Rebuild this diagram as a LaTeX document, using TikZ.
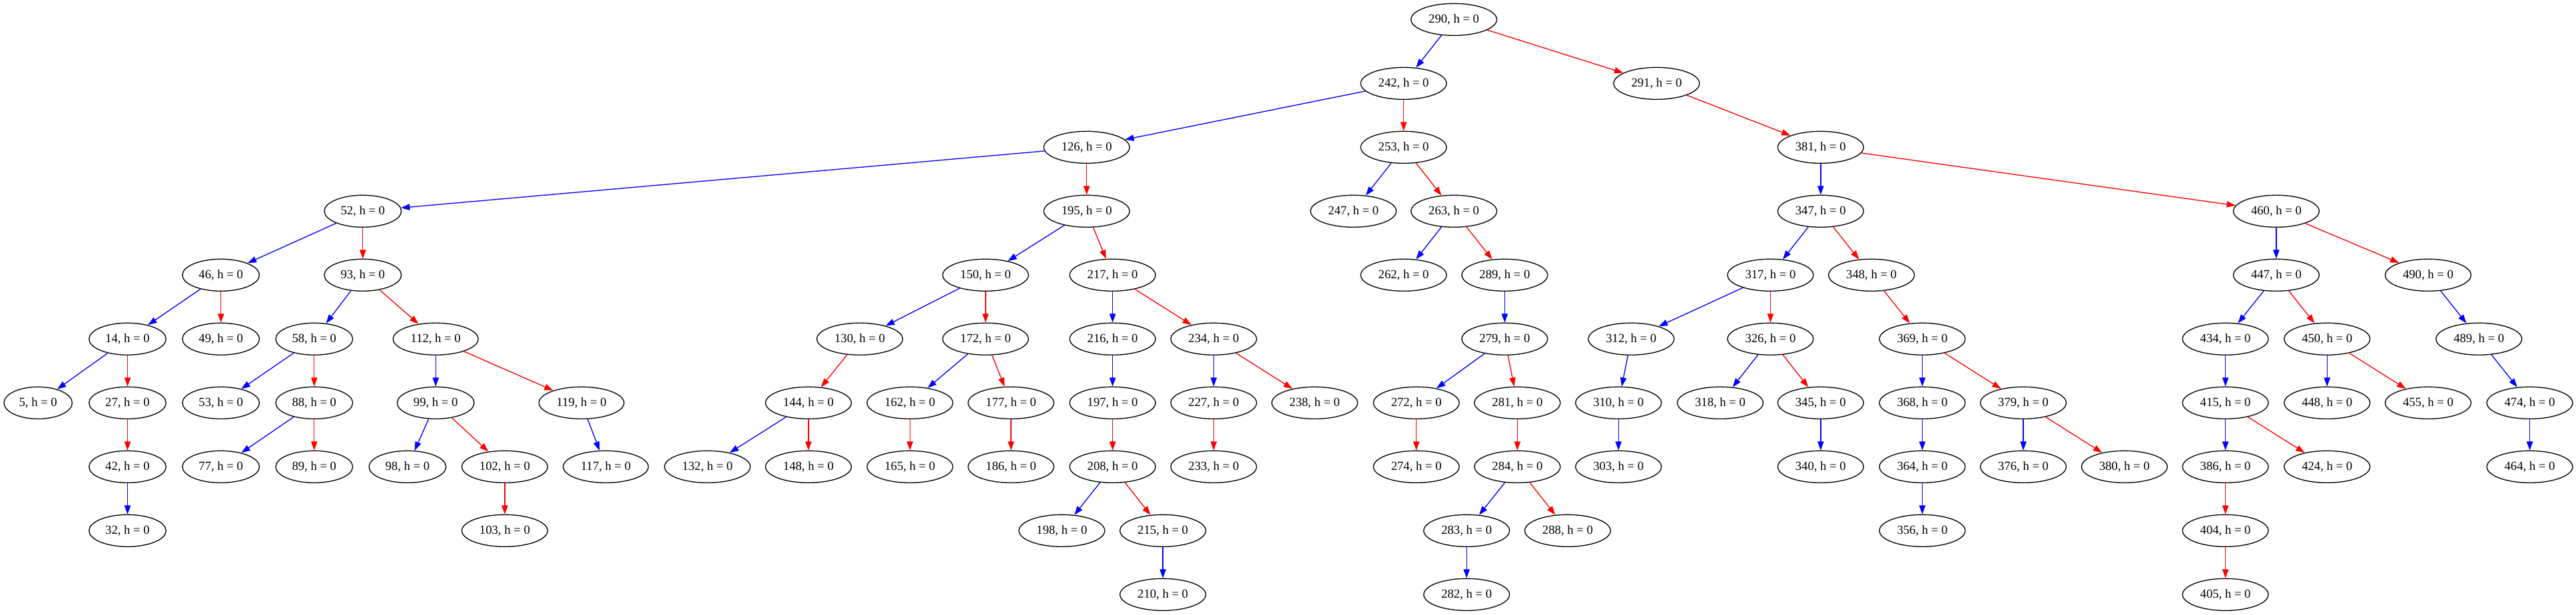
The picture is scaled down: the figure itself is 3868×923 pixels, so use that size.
\documentclass[tikz,border=0pt]{standalone}
\usepackage{fontspec}
\setmainfont{Liberation Serif}
\usetikzlibrary{arrows.meta}
\usetikzlibrary{shapes.geometric}

\begin{document}
\begin{tikzpicture}[
	x=0.75bp, y=-0.75bp,
  line width=1bp,
  key/.style = {draw,ellipse,inner xsep=5.7bp,inner ysep=0pt,minimum height=36bp,font=\fontsize{14bp}{16bp}\selectfont},
  lchild/.style = {draw=blue,-{Triangle[length=10bp,width=7bp]}},
  rchild/.style = {draw=red,-{Triangle[length=10bp,width=7bp]}}
  ]
	\useasboundingbox (0,0) rectangle (3868,923);

	% level 0 - 2
	\node[key] (n290) at (2183.1,29.3) {290, h = 0};
	\node[key] (n242) at (2107.6,125.3) {242, h = 0};
	\node[key] (n291) at (2487.4,125.3) {291, h = 0};
	\node[key] (n126) at (1631.7,221.3) {126, h = 0};
	\node[key] (n253) at (2107.6,221.3) {253, h = 0};
	\node[key] (n381) at (2733.8,221.3) {381, h = 0};

	% level 3
	\node[key] (n52)  at (544.8,317.3)  {52, h = 0};
	\node[key] (n195) at (1631.7,317.3) {195, h = 0};
	\node[key] (n247) at (2032.2,317.3) {247, h = 0};
	\node[key] (n263) at (2183.1,317.3) {263, h = 0};
	\node[key] (n347) at (2733.8,317.3) {347, h = 0};
	\node[key] (n460) at (3417.9,317.3) {460, h = 0};

	% level 4
	\node[key] (n46)  at (331.7,413.3)  {46, h = 0};
	\node[key] (n93)  at (544.8,413.3)  {93, h = 0};
	\node[key] (n150) at (1479.9,413.3) {150, h = 0};
	\node[key] (n217) at (1670.6,413.3) {217, h = 0};
	\node[key] (n262) at (2107.6,413.3) {262, h = 0};
	\node[key] (n289) at (2259.4,413.3) {289, h = 0};
	\node[key] (n317) at (2658.4,413.3) {317, h = 0};
	\node[key] (n348) at (2810.1,413.3) {348, h = 0};
	\node[key] (n447) at (3417.9,413.3) {447, h = 0};
	\node[key] (n490) at (3645.9,413.3) {490, h = 0};

	% level 5
	\node[key] (n14)  at (191.5,509.3)  {14, h = 0};
	\node[key] (n49)  at (331.7,509.3)  {49, h = 0};
	\node[key] (n58)  at (471.8,509.3)  {58, h = 0};
	\node[key] (n112) at (654.2,509.3)  {112, h = 0};
	\node[key] (n130) at (1291.0,509.3) {130, h = 0};
	\node[key] (n172) at (1479.9,509.3) {172, h = 0};
	\node[key] (n216) at (1670.6,509.3) {216, h = 0};
	\node[key] (n234) at (1822.4,509.3) {234, h = 0};
	\node[key] (n279) at (2259.4,509.3) {279, h = 0};
	\node[key] (n312) at (2449.3,509.3) {312, h = 0};
	\node[key] (n326) at (2658.4,509.3) {326, h = 0};
	\node[key] (n369) at (2886.4,509.3) {369, h = 0};
	\node[key] (n434) at (3341.6,509.3) {434, h = 0};
	\node[key] (n450) at (3494.2,509.3) {450, h = 0};
	\node[key] (n489) at (3722.2,509.3) {489, h = 0};

	% level 6
	\node[key] (n5)   at (57.2,605.3)   {5, h = 0};
	\node[key] (n27)  at (191.5,605.3)  {27, h = 0};
	\node[key] (n53)  at (331.7,605.3)  {53, h = 0};
	\node[key] (n88)  at (471.8,605.3)  {88, h = 0};
	\node[key] (n99)  at (654.2,605.3)  {99, h = 0};
	\node[key] (n119) at (873.1,605.3)  {119, h = 0};
	\node[key] (n144) at (1213.9,605.3) {144, h = 0};
	\node[key] (n162) at (1366.3,605.3) {162, h = 0};
	\node[key] (n177) at (1518.1,605.3) {177, h = 0};
	\node[key] (n197) at (1670.6,605.3) {197, h = 0};
	\node[key] (n227) at (1822.4,605.3) {227, h = 0};
	\node[key] (n238) at (1974.1,605.3) {238, h = 0};
	\node[key] (n272) at (2126.7,605.3) {272, h = 0};
	\node[key] (n281) at (2278.4,605.3) {281, h = 0};
	\node[key] (n310) at (2430.2,605.3) {310, h = 0};
	\node[key] (n318) at (2583.0,605.3) {318, h = 0};
	\node[key] (n345) at (2733.8,605.3) {345, h = 0};
	\node[key] (n368) at (2886.4,605.3) {368, h = 0};
	\node[key] (n379) at (3038.1,605.3) {379, h = 0};
	\node[key] (n415) at (3341.6,605.3) {415, h = 0};
	\node[key] (n448) at (3494.2,605.3) {448, h = 0};
	\node[key] (n455) at (3645.9,605.3) {455, h = 0};
	\node[key] (n474) at (3798.5,605.3) {474, h = 0};

	% level 7
	\node[key] (n42)  at (191.5,701.3)  {42, h = 0};
	\node[key] (n77)  at (331.7,701.3)  {77, h = 0};
	\node[key] (n89)  at (471.8,701.3)  {89, h = 0};
	\node[key] (n98)  at (611.9,701.3)  {98, h = 0};
	\node[key] (n102) at (757.9,701.3)  {102, h = 0};
	\node[key] (n117) at (909.6,701.3)  {117, h = 0};
	\node[key] (n132) at (1062.2,701.3) {132, h = 0};
	\node[key] (n148) at (1213.9,701.3) {148, h = 0};
	\node[key] (n165) at (1366.3,701.3) {165, h = 0};
	\node[key] (n186) at (1518.1,701.3) {186, h = 0};
	\node[key] (n208) at (1670.6,701.3) {208, h = 0};
	\node[key] (n233) at (1822.4,701.3) {233, h = 0};
	\node[key] (n274) at (2126.7,701.3) {274, h = 0};
	\node[key] (n284) at (2278.4,701.3) {284, h = 0};
	\node[key] (n303) at (2430.2,701.3) {303, h = 0};
	\node[key] (n340) at (2733.8,701.3) {340, h = 0};
	\node[key] (n364) at (2886.4,701.3) {364, h = 0};
	\node[key] (n376) at (3038.1,701.3) {376, h = 0};
	\node[key] (n380) at (3189.9,701.3) {380, h = 0};
	\node[key] (n386) at (3341.6,701.3) {386, h = 0};
	\node[key] (n424) at (3494.2,701.3) {424, h = 0};
	\node[key] (n464) at (3798.5,701.3) {464, h = 0};

	% level 8 - 9
	\node[key] (n32)  at (191.5,797.3)  {32, h = 0};
	\node[key] (n103) at (757.9,797.3)  {103, h = 0};
	\node[key] (n198) at (1594.4,797.3) {198, h = 0};
	\node[key] (n215) at (1746.1,797.3) {215, h = 0};
	\node[key] (n283) at (2202.2,797.3) {283, h = 0};
	\node[key] (n288) at (2353.9,797.3) {288, h = 0};
	\node[key] (n356) at (2886.4,797.3) {356, h = 0};
	\node[key] (n404) at (3341.6,797.3) {404, h = 0};
	\node[key] (n210) at (1746.1,893.3) {210, h = 0};
	\node[key] (n282) at (2202.2,893.3) {282, h = 0};
	\node[key] (n405) at (3341.6,893.3) {405, h = 0};

	% edges: blue to the smaller key, red to the larger one
	\draw[lchild] (n290) -- (n242);
	\draw[rchild] (n290) -- (n291);
	\draw[lchild] (n242) -- (n126);
	\draw[rchild] (n242) -- (n253);
	\draw[rchild] (n291) -- (n381);
	\draw[lchild] (n126) -- (n52);
	\draw[rchild] (n126) -- (n195);
	\draw[lchild] (n253) -- (n247);
	\draw[rchild] (n253) -- (n263);
	\draw[lchild] (n381) -- (n347);
	\draw[rchild] (n381) -- (n460);
	\draw[lchild] (n52)  -- (n46);
	\draw[rchild] (n52)  -- (n93);
	\draw[lchild] (n195) -- (n150);
	\draw[rchild] (n195) -- (n217);
	\draw[lchild] (n263) -- (n262);
	\draw[rchild] (n263) -- (n289);
	\draw[lchild] (n347) -- (n317);
	\draw[rchild] (n347) -- (n348);
	\draw[lchild] (n460) -- (n447);
	\draw[rchild] (n460) -- (n490);
	\draw[lchild] (n46)  -- (n14);
	\draw[rchild] (n46)  -- (n49);
	\draw[lchild] (n93)  -- (n58);
	\draw[rchild] (n93)  -- (n112);
	\draw[lchild] (n150) -- (n130);
	\draw[rchild] (n150) -- (n172);
	\draw[lchild] (n217) -- (n216);
	\draw[rchild] (n217) -- (n234);
	\draw[lchild] (n289) -- (n279);
	\draw[lchild] (n317) -- (n312);
	\draw[rchild] (n317) -- (n326);
	\draw[rchild] (n348) -- (n369);
	\draw[lchild] (n447) -- (n434);
	\draw[rchild] (n447) -- (n450);
	\draw[lchild] (n490) -- (n489);
	\draw[lchild] (n14)  -- (n5);
	\draw[rchild] (n14)  -- (n27);
	\draw[lchild] (n58)  -- (n53);
	\draw[rchild] (n58)  -- (n88);
	\draw[lchild] (n112) -- (n99);
	\draw[rchild] (n112) -- (n119);
	\draw[rchild] (n130) -- (n144);
	\draw[lchild] (n172) -- (n162);
	\draw[rchild] (n172) -- (n177);
	\draw[lchild] (n216) -- (n197);
	\draw[lchild] (n234) -- (n227);
	\draw[rchild] (n234) -- (n238);
	\draw[lchild] (n279) -- (n272);
	\draw[rchild] (n279) -- (n281);
	\draw[lchild] (n312) -- (n310);
	\draw[lchild] (n326) -- (n318);
	\draw[rchild] (n326) -- (n345);
	\draw[lchild] (n369) -- (n368);
	\draw[rchild] (n369) -- (n379);
	\draw[lchild] (n434) -- (n415);
	\draw[lchild] (n450) -- (n448);
	\draw[rchild] (n450) -- (n455);
	\draw[lchild] (n489) -- (n474);
	\draw[rchild] (n27)  -- (n42);
	\draw[lchild] (n88)  -- (n77);
	\draw[rchild] (n88)  -- (n89);
	\draw[lchild] (n99)  -- (n98);
	\draw[rchild] (n99)  -- (n102);
	\draw[lchild] (n119) -- (n117);
	\draw[lchild] (n144) -- (n132);
	\draw[rchild] (n144) -- (n148);
	\draw[rchild] (n162) -- (n165);
	\draw[rchild] (n177) -- (n186);
	\draw[rchild] (n197) -- (n208);
	\draw[rchild] (n227) -- (n233);
	\draw[rchild] (n272) -- (n274);
	\draw[rchild] (n281) -- (n284);
	\draw[lchild] (n310) -- (n303);
	\draw[lchild] (n345) -- (n340);
	\draw[lchild] (n368) -- (n364);
	\draw[lchild] (n379) -- (n376);
	\draw[rchild] (n379) -- (n380);
	\draw[lchild] (n415) -- (n386);
	\draw[rchild] (n415) -- (n424);
	\draw[lchild] (n474) -- (n464);
	\draw[lchild] (n42)  -- (n32);
	\draw[rchild] (n102) -- (n103);
	\draw[lchild] (n208) -- (n198);
	\draw[rchild] (n208) -- (n215);
	\draw[lchild] (n284) -- (n283);
	\draw[rchild] (n284) -- (n288);
	\draw[lchild] (n364) -- (n356);
	\draw[rchild] (n386) -- (n404);
	\draw[lchild] (n215) -- (n210);
	\draw[lchild] (n283) -- (n282);
	\draw[rchild] (n404) -- (n405);

\end{tikzpicture}
\end{document}
